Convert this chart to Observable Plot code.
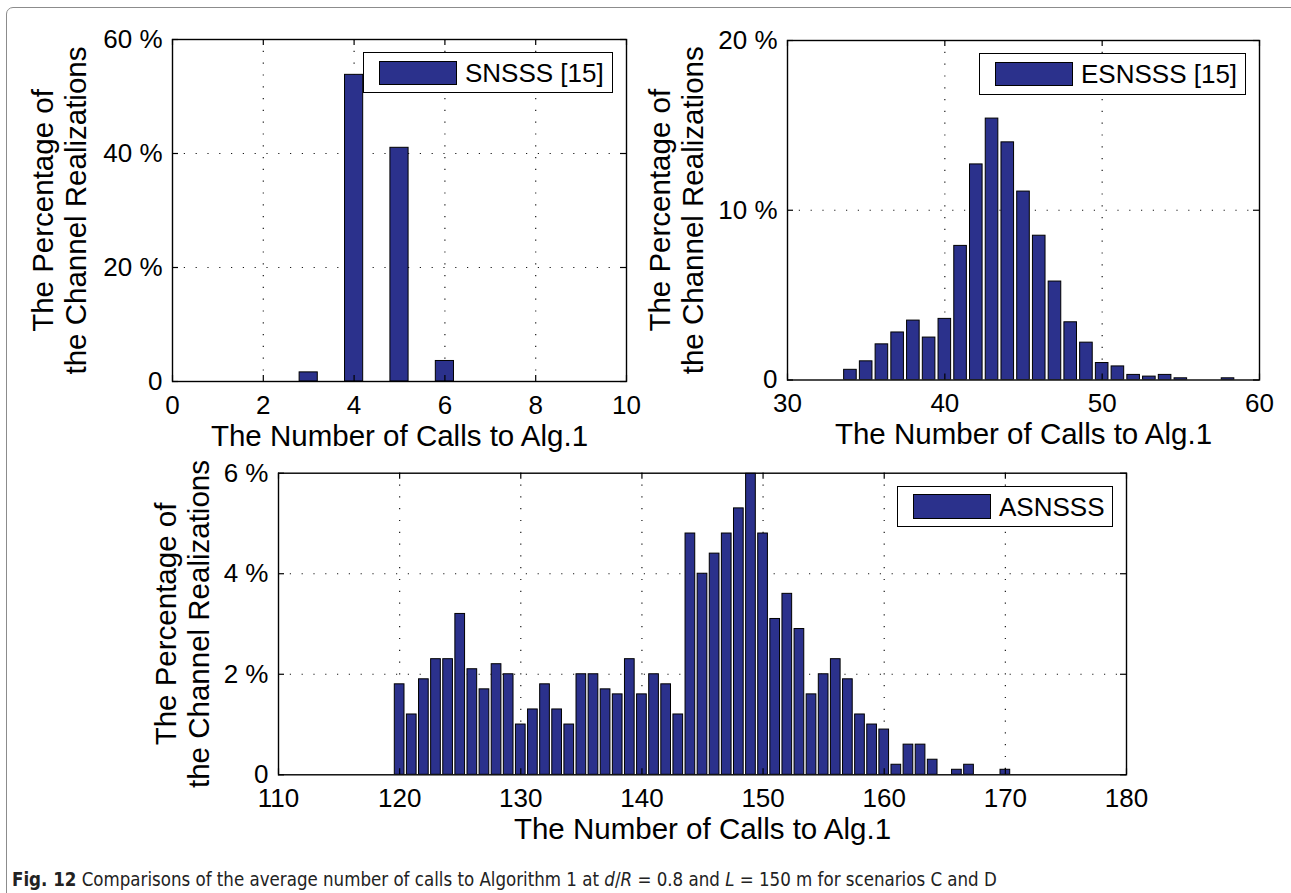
<!DOCTYPE html>
<html>
<head>
<meta charset="utf-8">
<script src="https://cdn.jsdelivr.net/npm/d3@7"></script>
<script src="https://cdn.jsdelivr.net/npm/@observablehq/plot@0.6"></script>
<style>
  html, body { margin: 0; padding: 0; background: #fff; overflow: hidden; }
  #fig { position: relative; width: 1291px; height: 893px; font-family: "Liberation Sans", Arial, Helvetica, sans-serif; overflow: hidden; }
  .border { position: absolute; left: 6px; top: 7px; width: 1330px; height: 950px; border: 1.5px solid #8c8c8c; border-radius: 7px; box-sizing: border-box; }
  .panel { position: absolute; }
  .panel svg { overflow: visible; }
  .legend { position: absolute; background: #fff; border: 1.3px solid #000; box-sizing: border-box; }
  .legend .sw { position: absolute; background: #2b318c; border: 1px solid #000; box-sizing: border-box; }
  .legend .lab { position: absolute; font-size: 26px; line-height: 1; white-space: nowrap; color: #000; }
  .caption { position: absolute; left: 12px; top: 871px; line-height: 1; font-family: "Liberation Sans Narrow", "DejaVu Sans Condensed", "Liberation Sans", sans-serif; font-size: 16px; color: #222; white-space: nowrap; }
</style>
</head>
<body>
<div id="fig">
  <div class="border"></div>
</div>
<script>
// SNSSS [15]: share of channel realizations per number of calls to Alg.1
const snsssCalls = [3, 4, 5, 6];
const snsssPct = [1.6, 53.8, 41.0, 3.6];

// ESNSSS [15]
const esnsssCalls = [34, 35, 36, 37, 38, 39, 40, 41, 42, 43, 44, 45, 46, 47, 48, 49, 50, 51, 52, 53, 54, 55, 58];
const esnsssPct = [0.6, 1.1, 2.1, 2.8, 3.5, 2.5, 3.6, 7.9, 12.7, 15.4, 14.0, 11.1, 8.5, 5.8, 3.4, 2.2, 1.0, 0.8, 0.3, 0.2, 0.3, 0.1, 0.1];

// ASNSSS
const asnsssCalls = [120, 121, 122, 123, 124, 125, 126, 127, 128, 129,
                     130, 131, 132, 133, 134, 135, 136, 137, 138, 139,
                     140, 141, 142, 143, 144, 145, 146, 147, 148, 149,
                     150, 151, 152, 153, 154, 155, 156, 157, 158, 159,
                     160, 161, 162, 163, 164, 166, 167, 170];
const asnsssPct = [1.8, 1.2, 1.9, 2.3, 2.3, 3.2, 2.1, 1.7, 2.2, 2.0,
                   1.0, 1.3, 1.8, 1.3, 1.0, 2.0, 2.0, 1.7, 1.6, 2.3,
                   1.6, 2.0, 1.8, 1.2, 4.8, 4.0, 4.4, 4.8, 5.3, 6.0,
                   4.8, 3.1, 3.6, 2.9, 1.6, 2.0, 2.3, 1.9, 1.2, 1.0,
                   0.9, 0.2, 0.6, 0.6, 0.3, 0.1, 0.2, 0.1];

// Axis ticks
const snsssXTicks = [0, 2, 4, 6, 8, 10];
const snsssYTicks = [0, 20, 40, 60];
const esnsssXTicks = [30, 40, 50, 60];
const esnsssYTicks = [0, 10, 20];
const asnsssXTicks = [110, 120, 130, 140, 150, 160, 170, 180];
const asnsssYTicks = [0, 2, 4, 6];

const xLabel = "The Number of Calls to Alg.1";
const yLabel = "The Percentage of\nthe Channel Realizations";

const BAR_FILL = "#2b318c";
const FONT = "'Liberation Sans', Arial, Helvetica, sans-serif";

function histPanel(o) {
  const data = o.calls.map((c, i) => ({c, p: o.pct[i]}));
  const [x0, x1] = o.xDomain;
  const [y0, y1] = o.yDomain;
  const innerW = o.width - o.ml - o.mr;
  const innerH = o.height - o.mt - o.mb;
  const gridX = o.xTicks.filter(t => t > x0 && t < x1);
  const gridY = o.yTicks.filter(t => t > y0 && t < y1);
  const grid = {stroke: "#1a1a1a", strokeWidth: 1.2, strokeDasharray: "1.2,10.6"};
  const tick = 6;
  return Plot.plot({
    width: o.width,
    height: o.height,
    marginLeft: o.ml, marginRight: o.mr, marginTop: o.mt, marginBottom: o.mb,
    x: {domain: o.xDomain},
    y: {domain: o.yDomain},
    style: {fontFamily: FONT, fontSize: "26px", color: "#000", background: "transparent", overflow: "visible"},
    marks: [
      Plot.ruleX(gridX, {x: d => d, ...grid}),
      Plot.ruleY(gridY, {y: d => d, ...grid}),
      Plot.rectY(data, {
        x1: d => d.c - o.barWidth / 2,
        x2: d => d.c + o.barWidth / 2,
        y1: 0, y2: d => d.p,
        fill: BAR_FILL, stroke: "#000", strokeWidth: 1, clip: true
      }),
      // inward ticks on all four sides of the box
      Plot.tickY(o.yTicks, {y: d => d, insetRight: innerW - tick, stroke: "#000", strokeWidth: 1.2}),
      Plot.tickY(o.yTicks, {y: d => d, insetLeft: innerW - tick, stroke: "#000", strokeWidth: 1.2}),
      Plot.tickX(o.xTicks, {x: d => d, insetTop: innerH - tick, stroke: "#000", strokeWidth: 1.2}),
      Plot.tickX(o.xTicks, {x: d => d, insetBottom: innerH - tick, stroke: "#000", strokeWidth: 1.2}),
      Plot.frame({stroke: "#000", strokeWidth: 1.4}),
      Plot.axisX(o.xTicks, {tickSize: 0, tickPadding: 14, fontSize: 26, label: null}),
      Plot.axisY(o.yTicks, {tickSize: 0, tickPadding: 10, fontSize: 26, label: null,
        tickFormat: d => d === 0 ? "0" : `${d} %`}),
      Plot.text([xLabel], {text: d => d, frameAnchor: "bottom", dy: 55, lineAnchor: "middle", fontSize: 29.5}),
      Plot.text([yLabel], {text: d => d, frameAnchor: "left", rotate: -90, dx: o.yLabelDx,
        textAnchor: "middle", lineAnchor: "middle", fontSize: 29.5, lineHeight: 1.12})
    ]
  });
}

function place(node, left, top) {
  const wrap = document.createElement("div");
  wrap.className = "panel";
  wrap.style.left = left + "px";
  wrap.style.top = top + "px";
  wrap.appendChild(node);
  document.getElementById("fig").appendChild(wrap);
}

function legend(box, sw, textLeft, label) {
  const lg = document.createElement("div");
  lg.className = "legend";
  Object.assign(lg.style, {left: box[0] + "px", top: box[1] + "px", width: box[2] + "px", height: box[3] + "px"});
  const s = document.createElement("div");
  s.className = "sw";
  Object.assign(s.style, {left: sw[0] + "px", top: sw[1] + "px", width: sw[2] + "px", height: sw[3] + "px"});
  const t = document.createElement("div");
  t.className = "lab";
  t.textContent = label;
  Object.assign(t.style, {left: textLeft + "px", top: (box[3] / 2 - 13.5) + "px"});
  lg.appendChild(s);
  lg.appendChild(t);
  document.getElementById("fig").appendChild(lg);
}

// top-left panel: SNSSS
place(histPanel({
  calls: snsssCalls, pct: snsssPct, barWidth: 0.4,
  xDomain: [0, 10], yDomain: [0, 60], xTicks: snsssXTicks, yTicks: snsssYTicks,
  width: 660, height: 460, ml: 172, mr: 34, mt: 39, mb: 79, yLabelDx: -114
}), 0, 0);

// top-right panel: ESNSSS
place(histPanel({
  calls: esnsssCalls, pct: esnsssPct, barWidth: 0.8,
  xDomain: [30, 60], yDomain: [0, 20], xTicks: esnsssXTicks, yTicks: esnsssYTicks,
  width: 651, height: 460, ml: 147, mr: 32, mt: 40, mb: 80.5, yLabelDx: -112
}), 640, 0);

// bottom panel: ASNSSS
place(histPanel({
  calls: asnsssCalls, pct: asnsssPct, barWidth: 0.8,
  xDomain: [110, 180], yDomain: [0, 6], xTicks: asnsssXTicks, yTicks: asnsssYTicks,
  width: 1291, height: 410, ml: 278, mr: 165, mt: 22.7, mb: 85.7, yLabelDx: -97
}), 0, 450);

legend([363, 52, 250, 41], [15, 8, 78, 24], 101, "SNSSS [15]");
legend([979, 52.5, 267, 42], [15, 8, 78, 24], 101, "ESNSSS [15]");
legend([897, 485.5, 216, 41], [15, 7.5, 78, 25], 101, "ASNSSS");

// figure caption, sized so it runs to the same length as the figure text block
const cap = document.createElement("div");
cap.className = "caption";
cap.innerHTML = '<b>Fig. 12</b> Comparisons of the average number of calls to Algorithm 1 at <i>d</i>/<i>R</i> = 0.8 and <i>L</i> = 150 m for scenarios C and D';
document.getElementById("fig").appendChild(cap);
const capWidth = 986;
const w = cap.getBoundingClientRect().width;
const fs = 16 * capWidth / w;
cap.style.fontSize = fs.toFixed(2) + "px";
cap.style.top = (880 - fs / 2) + "px";
</script>
</body>
</html>
